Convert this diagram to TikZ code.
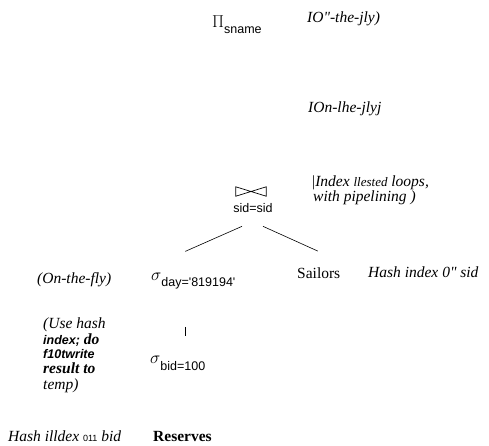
\documentclass[tikz,border=0pt]{standalone}
\usepackage{amsmath}
\usepackage{amssymb}
\usepackage{fontspec}
\setmainfont{Liberation Serif}
\setsansfont{Liberation Sans}
\usetikzlibrary{positioning}

\begin{document}
\begin{tikzpicture}[
  x=1pt, y=-1pt,
  op/.style={font=\sffamily\fontsize{12.5}{14}\selectfont,inner sep=0pt,anchor=base west},
  joinsym/.style={inner sep=0pt,minimum width=30pt,minimum height=9pt},
  rel/.style={font=\fontsize{15.5}{17}\selectfont,inner sep=0pt,anchor=base west},
  note/.style={font=\itshape\fontsize{15.5}{13}\selectfont,inner sep=0pt,anchor=base west},
  edge/.style={line width=0.6pt},
]
\useasboundingbox (0,0) rectangle (489,445);

% ===== plan tree =====
\node[op] (proj) at (212,27) {{\fontsize{17}{17}\selectfont$\Pi$}\raisebox{-6pt}{sname}};
\node[joinsym] (join) at (251,191.5) {};
\draw[line width=0.7pt] (join.north west) -- (join.center) -- (join.south west) -- cycle;
\draw[line width=0.7pt] (join.north east) -- (join.center) -- (join.south east) -- cycle;
\node[op,anchor=base] (cond) at (253,212) {sid=sid};
\node[op] (sigday) at (151,280) {{\fontsize{18}{18}\selectfont$\sigma$}\raisebox{-6pt}{day=\textquotesingle 819194\textquotesingle}};
\node[rel] (sailors) at (297,278) {Sailors};
\node[op] (sigbid) at (150,363) {{\fontsize{18}{18}\selectfont$\sigma$}\raisebox{-7pt}{bid=100}};
\node[rel,font=\bfseries\fontsize{15.5}{17}\selectfont] (reserves) at (153,441) {Reserves};

\draw[edge] ([shift={(-11,14)}]cond.south) -- ([shift={(-8,-21)}]sigday.north);
\draw[edge] ([shift={(10,14)}]cond.south) -- ([shift={(-1,-16)}]sailors.north);
\draw[line width=1pt] ([shift={(34,38)}]sigday.south west) -- ([shift={(35,-19)}]sigbid.north west);

% ===== annotations =====
\node[note] (nproj) at (307,22) {IO\textquotedbl-the-jly)};
\node[note] (njoin0) at (308,112) {IOn-lhe-jlyj};
\node[note] (njoin) at (312,186) {{\upshape|}Index {\fontsize{13}{13}\selectfont llested} loops,};
\node[note] (njoin2) at (313,201) {with pipelining )};
\node[note] (nday) at (37,283) {(On-the-fly)};
\node[note] (nsailors) at (368,277) {Hash index 0\textquotedbl{} sid};
\node[note] (nbid1) at (43,328) {(Use hash};
\node[note,font=\bfseries\itshape\fontsize{15.5}{13}\selectfont] (nbid2) at (43,344) {{\sffamily\fontsize{12.5}{13}\selectfont index;} do};
\node[note,font=\sffamily\bfseries\itshape\fontsize{12.5}{13}\selectfont] (nbid3) at (43,358) {f10twrite};
\node[note,font=\bfseries\itshape\fontsize{15.5}{13}\selectfont] (nbid4) at (43,373) {result to};
\node[note] (nbid5) at (43,389) {temp)};
\node[note] (nres) at (8,441) {Hash illdex {\upshape\sffamily\fontsize{9}{9}\selectfont 011} bid};
\end{tikzpicture}
\end{document}
